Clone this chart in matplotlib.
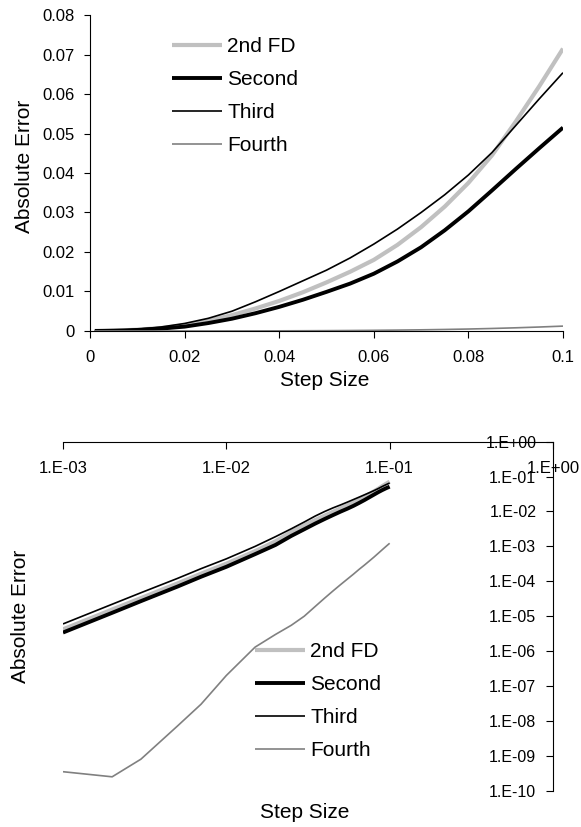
import matplotlib
matplotlib.use("Agg")
import matplotlib.pyplot as plt
from matplotlib.ticker import FixedLocator, NullLocator

plt.rcParams["font.family"] = ["Liberation Sans", "DejaVu Sans"]

# ---------------------------------------------------------------- data
STEP = [0.001, 0.002, 0.003, 0.005, 0.007, 0.01, 0.015, 0.02, 0.025, 0.03,
        0.035, 0.04, 0.045, 0.05, 0.055, 0.06, 0.065, 0.07, 0.075, 0.08,
        0.085, 0.09, 0.095, 0.1]
FD2 = [4.2e-6, 1.55e-5, 3.3e-5, 8.6e-5, 1.65e-4, 3.2e-4, 7.3e-4, 1.4e-3,
       2.6e-3, 4.0e-3, 5.7e-3, 7.6e-3, 9.8e-3, 1.23e-2, 1.50e-2, 1.80e-2,
       2.18e-2, 2.63e-2, 3.15e-2, 3.75e-2, 4.45e-2, 5.30e-2, 6.20e-2, 7.15e-2]
SECOND = [3.4e-6, 1.25e-5, 2.7e-5, 7.0e-5, 1.35e-4, 2.6e-4, 6.0e-4, 1.1e-3,
          2.0e-3, 3.1e-3, 4.5e-3, 6.1e-3, 7.9e-3, 9.9e-3, 1.20e-2, 1.45e-2,
          1.76e-2, 2.12e-2, 2.55e-2, 3.03e-2, 3.56e-2, 4.10e-2, 4.63e-2, 5.15e-2]
THIRD = [6.0e-6, 2.2e-5, 4.7e-5, 1.2e-4, 2.3e-4, 4.4e-4, 1.0e-3, 1.9e-3,
         3.2e-3, 5.0e-3, 7.4e-3, 1.00e-2, 1.27e-2, 1.54e-2, 1.85e-2, 2.20e-2,
         2.58e-2, 3.00e-2, 3.45e-2, 3.95e-2, 4.52e-2, 5.20e-2, 5.88e-2, 6.54e-2]
FOURTH = [3.5e-10, 2.5e-10, 8.0e-10, 7.0e-9, 3.0e-8, 2.0e-7, 1.3e-6, 3.0e-6,
          5.5e-6, 1.0e-5, 1.9e-5, 3.3e-5, 5.3e-5, 8.0e-5, 1.15e-4, 1.6e-4,
          2.2e-4, 2.9e-4, 3.8e-4, 4.9e-4, 6.3e-4, 8.0e-4, 1.0e-3, 1.23e-3]
LABELS = ["2nd FD", "Second", "Third", "Fourth"]

LIN_XTICKS = [0, 0.02, 0.04, 0.06, 0.08, 0.1]
LIN_XLABELS = ["0", "0.02", "0.04", "0.06", "0.08", "0.1"]
LIN_YTICKS = [0, 0.01, 0.02, 0.03, 0.04, 0.05, 0.06, 0.07, 0.08]
LIN_YLABELS = ["0", "0.01", "0.02", "0.03", "0.04", "0.05", "0.06", "0.07", "0.08"]
LOG_XTICKS = [1e-3, 1e-2, 1e-1, 1e0]
LOG_XLABELS = ["1.E-03", "1.E-02", "1.E-01", "1.E+00"]
LOG_YTICKS = [1e0, 1e-1, 1e-2, 1e-3, 1e-4, 1e-5, 1e-6, 1e-7, 1e-8, 1e-9, 1e-10]
LOG_YLABELS = ["1.E+00", "1.E-01", "1.E-02", "1.E-03", "1.E-04", "1.E-05",
               "1.E-06", "1.E-07", "1.E-08", "1.E-09", "1.E-10"]

STYLES = [dict(color="#c0c0c0", lw=3.0),
          dict(color="#000000", lw=2.8),
          dict(color="#000000", lw=1.2),
          dict(color="#808080", lw=1.2)]

fig = plt.figure(figsize=(5.81, 8.27), dpi=100)


def draw(ax):
    for ys, lab, st in zip([FD2, SECOND, THIRD, FOURTH], LABELS, STYLES):
        ax.plot(STEP, ys, label=lab, solid_capstyle="butt", **st)


def legend(ax, anchor):
    ax.legend(loc="upper left", bbox_to_anchor=anchor, frameon=False,
              fontsize=15, handlelength=2.4, handletextpad=0.25,
              labelspacing=0.67, borderpad=0, borderaxespad=0)


# ---------------------------------------------------------------- linear
ax1 = fig.add_axes([0.155, 0.5998, 0.814, 0.382])
draw(ax1)
ax1.set_xlim(0, 0.1)
ax1.set_ylim(0, 0.08)
for s in ["top", "right"]:
    ax1.spines[s].set_visible(False)
ax1.xaxis.set_major_locator(FixedLocator(LIN_XTICKS))
ax1.set_xticklabels(LIN_XLABELS)
ax1.yaxis.set_major_locator(FixedLocator(LIN_YTICKS))
ax1.set_yticklabels(LIN_YLABELS)
ax1.tick_params(axis="x", length=5, width=0.8, pad=9, labelsize=12)
ax1.tick_params(axis="y", length=4, width=0.8, pad=7, labelsize=12)
ax1.set_xlabel("Step Size", fontsize=15)
ax1.set_ylabel("Absolute Error", fontsize=15)
ax1.xaxis.set_label_coords(0.497, -0.127)
ax1.yaxis.set_label_coords(-0.119, 0.52)
legend(ax1, (0.173, 0.93))

# ---------------------------------------------------------------- log-log
ax2 = fig.add_axes([0.1084, 0.0439, 0.8434, 0.422])
draw(ax2)
ax2.set_xscale("log")
ax2.set_yscale("log")
ax2.set_xlim(1e-3, 1)
ax2.set_ylim(1e-10, 1)
for s in ["top", "right"]:
    ax2.spines[s].set_visible(False)
ax2.spines["bottom"].set_position(("axes", 1.0))
ax2.spines["left"].set_position(("axes", 1.0))
ax2.xaxis.set_major_locator(FixedLocator(LOG_XTICKS))
ax2.xaxis.set_minor_locator(NullLocator())
ax2.set_xticklabels(LOG_XLABELS)
ax2.yaxis.set_major_locator(FixedLocator(LOG_YTICKS))
ax2.yaxis.set_minor_locator(NullLocator())
ax2.set_yticklabels(LOG_YLABELS)
ax2.tick_params(axis="x", length=5, width=0.8, pad=9, labelsize=12)
ax2.tick_params(axis="y", length=5, width=0.8, pad=7, labelsize=11.5)
ax2.set_xlabel("Step Size", fontsize=15)
ax2.set_ylabel("Absolute Error", fontsize=15)
ax2.xaxis.set_label_coords(0.494, -0.035)
ax2.yaxis.set_label_coords(-0.067, 0.5)
legend(ax2, (0.392, 0.426))

fig.savefig("out.png", dpi=100)
